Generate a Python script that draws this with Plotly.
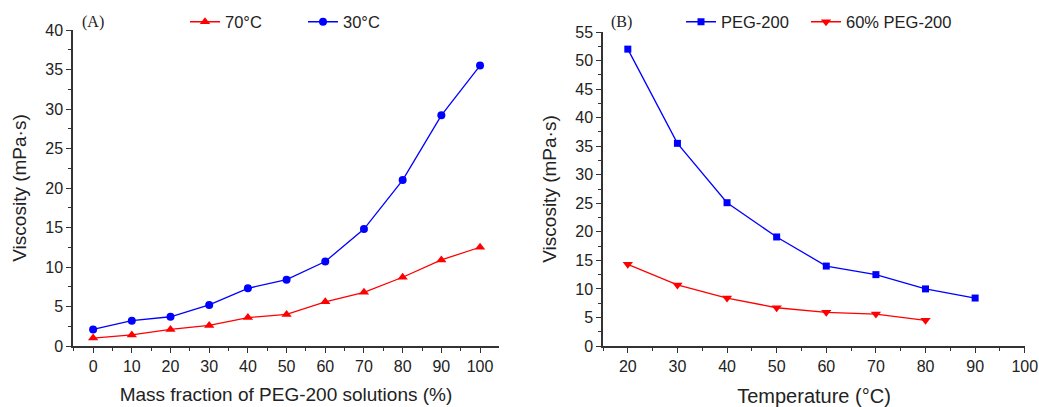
import plotly.graph_objects as go

# Panel A data
mass_fraction = [0, 10, 20, 30, 40, 50, 60, 70, 80, 90, 100]
visc_70C = [1.0, 1.4, 2.1, 2.6, 3.6, 4.0, 5.6, 6.8, 8.7, 10.9, 12.5]
visc_30C = [2.1, 3.2, 3.7, 5.2, 7.3, 8.4, 10.7, 14.8, 21.0, 29.2, 35.5]

# Panel B data
temp_peg = [20, 30, 40, 50, 60, 70, 80, 90]
visc_peg = [52.0, 35.5, 25.1, 19.1, 14.0, 12.5, 10.0, 8.4]
temp_60 = [20, 30, 40, 50, 60, 70, 80]
visc_60 = [14.3, 10.7, 8.4, 6.7, 5.9, 5.6, 4.5]

W, H = 1039, 407
FONT = "Liberation Sans, Arial, sans-serif"
RED = "#ff0000"
BLUE = "#0000ff"

fig = go.Figure()

fig.add_trace(go.Scatter(x=mass_fraction, y=visc_70C, mode="lines+markers", name="70°C",
                         line=dict(color=RED, width=1.3),
                         marker=dict(symbol="triangle-up", size=9, color=RED),
                         xaxis="x", yaxis="y", legend="legend"))
fig.add_trace(go.Scatter(x=mass_fraction, y=visc_30C, mode="lines+markers", name="30°C",
                         line=dict(color=BLUE, width=1.3),
                         marker=dict(symbol="circle", size=8, color=BLUE),
                         xaxis="x", yaxis="y", legend="legend2"))
fig.add_trace(go.Scatter(x=temp_peg, y=visc_peg, mode="lines+markers", name="PEG-200",
                         line=dict(color=BLUE, width=1.3),
                         marker=dict(symbol="square", size=7, color=BLUE),
                         xaxis="x2", yaxis="y2", legend="legend3"))
fig.add_trace(go.Scatter(x=temp_60, y=visc_60, mode="lines+markers", name="60% PEG-200",
                         line=dict(color=RED, width=1.3),
                         marker=dict(symbol="triangle-down", size=9, color=RED),
                         xaxis="x2", yaxis="y2", legend="legend4"))

axis_common = dict(showline=True, linecolor="#333333", linewidth=1.5, ticks="outside",
                   ticklen=5, tickwidth=1.3, tickcolor="#333333", showgrid=False,
                   zeroline=False, mirror=False,
                   tickfont=dict(family=FONT, size=16, color="#222222"),
                   ticklabeloverflow="allow",
                   automargin=False)

TITLE_FONT = dict(family=FONT, size=19, color="#222222")


def px_x(p):
    return p / W


def px_y(p):
    return 1 - p / H


def legend_at(xpix):
    return dict(orientation="h", x=px_x(xpix), y=px_y(22), xanchor="left", yanchor="middle",
                bgcolor="rgba(0,0,0,0)", font=dict(family=FONT, size=16.5, color="#222222"),
                itemwidth=30)


fig.update_layout(
    width=W, height=H,
    margin=dict(l=0, r=0, t=0, b=0),
    paper_bgcolor="white", plot_bgcolor="white",
    font=dict(family=FONT, color="#222222"),
    xaxis=dict(domain=[px_x(73), px_x(499)], range=[-5.2, 104.9], anchor="y",
               tickmode="array", tickvals=list(range(0, 101, 10)),
               minor=dict(dtick=5, tick0=5, ticks="outside", ticklen=3, tickcolor="#333333"),
               title=dict(text="Mass fraction of PEG-200 solutions (%)", font=TITLE_FONT, standoff=14),
               **axis_common),
    yaxis=dict(domain=[px_y(346), px_y(30)], range=[0, 40], anchor="x",
               dtick=5, tick0=0,
               minor=dict(dtick=2.5, tick0=0, ticks="outside", ticklen=3, tickcolor="#333333"),
               title=dict(text="Viscosity (mPa·s)", font=TITLE_FONT, standoff=14),
               **axis_common),
    xaxis2=dict(domain=[px_x(603), px_x(1025)], range=[15, 100.05], anchor="y2",
                tickmode="array", tickvals=list(range(20, 101, 10)),
                minor=dict(dtick=5, tick0=15, ticks="outside", ticklen=3, tickcolor="#333333"),
                title=dict(text="Temperature (°C)", font=dict(family=FONT, size=20, color="#222222"),
                           standoff=21),
                **axis_common),
    yaxis2=dict(domain=[px_y(346), px_y(32)], range=[0, 55], anchor="x2",
                dtick=5, tick0=0,
                minor=dict(dtick=2.5, tick0=0, ticks="outside", ticklen=3, tickcolor="#333333"),
                title=dict(text="Viscosity (mPa·s)", font=TITLE_FONT, standoff=14),
                **axis_common),
    legend=legend_at(185),
    legend2=legend_at(303),
    legend3=legend_at(681),
    legend4=legend_at(806),
    showlegend=True,
    annotations=[
        dict(text="(A)", x=px_x(80), y=px_y(22), xref="paper", yref="paper",
             xanchor="left", yanchor="middle", showarrow=False,
             font=dict(family="Liberation Serif, Times New Roman, serif", size=16, color="#222222")),
        dict(text="(B)", x=px_x(609), y=px_y(22), xref="paper", yref="paper",
             xanchor="left", yanchor="middle", showarrow=False,
             font=dict(family="Liberation Serif, Times New Roman, serif", size=16, color="#222222")),
    ],
)

fig.write_html("out.html", config={"displayModeBar": False},
               post_script="document.body.style.margin='0';document.body.style.overflow='hidden';")
